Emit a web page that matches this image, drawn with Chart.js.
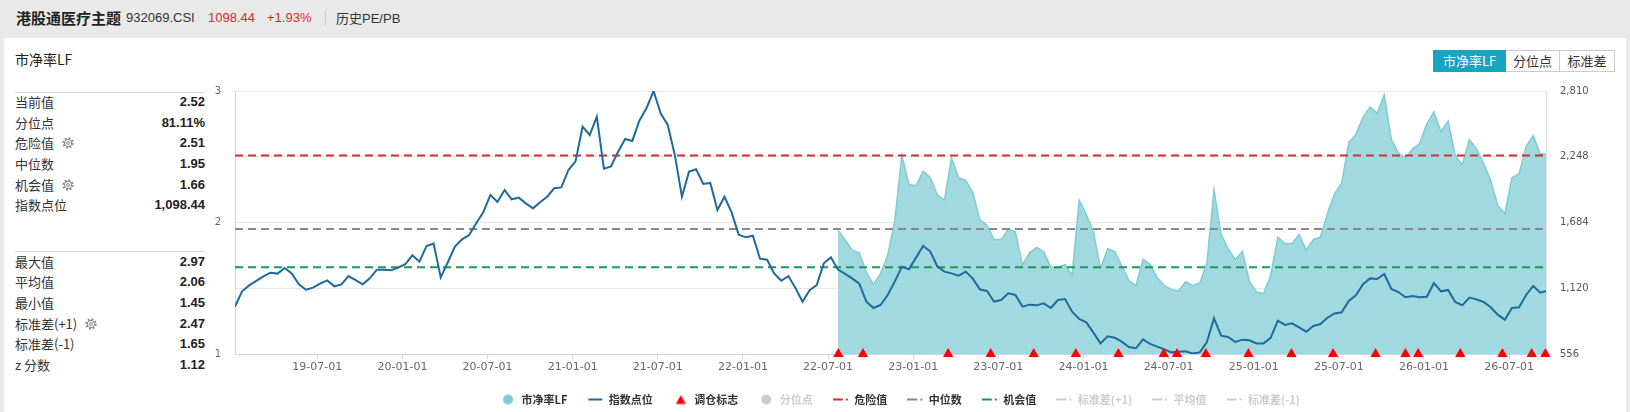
<!DOCTYPE html>
<html>
<head>
<meta charset="utf-8">
<script src="https://cdn.jsdelivr.net/npm/chart.js@4.4.1/dist/chart.umd.min.js"></script>
<style>
  body { margin: 0; width: 1630px; height: 412px; overflow: hidden; background: #e9e9e9; position: relative;
         font-family: "Liberation Sans", "Noto Sans CJK SC", sans-serif; color: #333; }
  .abs { position: absolute; white-space: nowrap; }
  .head { top: 0; height: 35px; line-height: 35px; font-size: 13px; }
  .cjk { font-family: "Noto Sans CJK SC", sans-serif; }
  #card { left: 4px; top: 38px; width: 1622px; height: 380px; background: #fff; }
  .sep { left: 15px; width: 190px; height: 1px; background: #ddd; }
  .rows { left: 15px; width: 190px; }
  .row { height: 20.7px; line-height: 20.7px; font-size: 13px; position: relative; }
  .row .lab { font-family: "Noto Sans CJK SC", sans-serif; color: #333; }
  .row .val { position: absolute; right: 0; top: 0; font-weight: bold; color: #222; }
  .row svg { vertical-align: -1px; margin-left: 8px; }
  #btns { left: 1433px; top: 50px; height: 22px; display: flex; font-family: "Noto Sans CJK SC", sans-serif; font-size: 13px; }
  #btns div { height: 20px; line-height: 20px; border: 1px solid #ccc; text-align: center; color: #333; background: #fff; }
  #btns div.on { background: #17a6c0; border-color: #17a6c0; color: #fff; }
  #wrap { left: 200px; top: 80px; width: 1400px; height: 335px; }
</style>
</head>
<body>
<div class="abs head cjk" style="left:16px;font-size:15px;font-weight:bold;color:#222">港股通医疗主题</div>
<div class="abs head" style="left:126px">932069.CSI</div>
<div class="abs head" style="left:208px;color:#d42b2b">1098.44</div>
<div class="abs head" style="left:267px;color:#d42b2b">+1.93%</div>
<div class="abs" style="left:325px;top:10px;width:1px;height:16px;background:#ccc"></div>
<div class="abs head" style="left:336px"><span class="cjk">历史</span>PE/PB</div>

<div id="card" class="abs"></div>
<div class="abs cjk" style="left:15px;top:49px;font-size:14px;line-height:20px;color:#222">市净率LF</div>

<div class="abs sep" style="top:92px"></div>
<div class="abs rows" style="top:92px">
  <div class="row"><span class="lab">当前值</span><span class="val">2.52</span></div>
  <div class="row"><span class="lab">分位点</span><span class="val">81.11%</span></div>
  <div class="row"><span class="lab">危险值</span><svg width="12" height="12" viewBox="0 0 12 12"><circle cx="6" cy="6" r="4.6" fill="none" stroke="#888" stroke-width="2.2" stroke-dasharray="1.8 1.8"/><circle cx="6" cy="6" r="3.6" fill="#fff" stroke="#888" stroke-width="1"/><circle cx="6" cy="6" r="1.4" fill="none" stroke="#888" stroke-width="1"/></svg><span class="val">2.51</span></div>
  <div class="row"><span class="lab">中位数</span><span class="val">1.95</span></div>
  <div class="row"><span class="lab">机会值</span><svg width="12" height="12" viewBox="0 0 12 12"><circle cx="6" cy="6" r="4.6" fill="none" stroke="#888" stroke-width="2.2" stroke-dasharray="1.8 1.8"/><circle cx="6" cy="6" r="3.6" fill="#fff" stroke="#888" stroke-width="1"/><circle cx="6" cy="6" r="1.4" fill="none" stroke="#888" stroke-width="1"/></svg><span class="val">1.66</span></div>
  <div class="row"><span class="lab">指数点位</span><span class="val">1,098.44</span></div>
</div>

<div class="abs sep" style="top:251px"></div>
<div class="abs rows" style="top:251.5px">
  <div class="row"><span class="lab">最大值</span><span class="val">2.97</span></div>
  <div class="row"><span class="lab">平均值</span><span class="val">2.06</span></div>
  <div class="row"><span class="lab">最小值</span><span class="val">1.45</span></div>
  <div class="row"><span class="lab">标准差(+1)</span><svg width="12" height="12" viewBox="0 0 12 12"><circle cx="6" cy="6" r="4.6" fill="none" stroke="#888" stroke-width="2.2" stroke-dasharray="1.8 1.8"/><circle cx="6" cy="6" r="3.6" fill="#fff" stroke="#888" stroke-width="1"/><circle cx="6" cy="6" r="1.4" fill="none" stroke="#888" stroke-width="1"/></svg><span class="val">2.47</span></div>
  <div class="row"><span class="lab">标准差(-1)</span><span class="val">1.65</span></div>
  <div class="row"><span class="lab">z 分数</span><span class="val">1.12</span></div>
</div>

<div id="btns" class="abs">
  <div class="on" style="width:71px">市净率LF</div>
  <div style="width:53px;border-left:none">分位点</div>
  <div style="width:54px;border-left:none">标准差</div>
</div>

<div id="wrap" class="abs"><canvas id="chart-pb"></canvas></div>

<script>
// index level, one value every half month, first point early Jan 2019
let index_values = [
  962, 1093, 1144, 1182, 1222, 1253, 1245, 1293, 1247, 1153,
  1107, 1125, 1159, 1187, 1136, 1153, 1224, 1190, 1153, 1204,
  1279, 1279, 1273, 1296, 1325, 1402, 1347, 1482, 1502, 1213,
  1342, 1476, 1539, 1576, 1676, 1770, 1919, 1859, 1962, 1882,
  1896, 1847, 1804, 1856, 1904, 1976, 1984, 2133, 2207, 2504,
  2433, 2590, 2144, 2164, 2290, 2399, 2382, 2556, 2662, 2810,
  2619, 2519, 2262, 1904, 2119, 2139, 2013, 2022, 1790, 1904,
  1770, 1579, 1556, 1570, 1373, 1364, 1247, 1184, 1224, 1122,
  1004, 1102, 1147, 1333, 1384, 1279, 1242, 1204, 1159, 1004,
  950, 976, 1062, 1176, 1304, 1282, 1382, 1482, 1436, 1307,
  1262, 1247, 1227, 1262, 1202, 1110, 1096, 1004, 1019, 1076,
  1062, 962, 979, 973, 990, 950, 1019, 1027, 919, 856,
  827, 739, 647, 707, 696, 662, 616, 605, 682, 642,
  619, 596, 570, 576, 579, 560, 570, 659, 862, 713,
  702, 659, 679, 673, 647, 647, 696, 842, 805, 819,
  785, 747, 796, 813, 867, 904, 913, 1010, 1059, 1153,
  1204, 1199, 1242, 1113, 1087, 1042, 1053, 1042, 1047, 1164,
  1093, 1105, 1002, 973, 1039, 1024, 1002, 956, 893, 850,
  950, 956, 1062, 1139, 1082, 1098
]
// PB (LF), same half-month grid, only available from Jul 2022
let pb_values = [
  1.94, 1.87, 1.79, 1.77, 1.62, 1.53, 1.61, 1.75, 2.01, 2.51,
  2.29, 2.28, 2.39, 2.34, 2.21, 2.17, 2.49, 2.34, 2.32, 2.23,
  2.02, 1.98, 1.87, 1.87, 1.95, 1.93, 1.68, 1.77, 1.81, 1.78,
  1.66, 1.66, 1.68, 1.60, 2.17, 2.06, 1.93, 1.65, 1.80, 1.78,
  1.67, 1.56, 1.52, 1.72, 1.68, 1.58, 1.52, 1.49, 1.48, 1.55,
  1.52, 1.54, 1.69, 2.25, 1.91, 1.80, 1.72, 1.78, 1.55, 1.47,
  1.46, 1.60, 1.89, 1.84, 1.84, 1.91, 1.79, 1.87, 1.89, 2.07,
  2.22, 2.30, 2.61, 2.67, 2.80, 2.88, 2.83, 2.97, 2.63, 2.53,
  2.49, 2.56, 2.60, 2.75, 2.84, 2.69, 2.77, 2.51, 2.44, 2.63,
  2.56, 2.45, 2.32, 2.13, 2.07, 2.34, 2.37, 2.58, 2.66, 2.52,
  2.52
]
let pb_start = 85
let rebalance_dates = ['2022-07-23', '2022-09-15', '2023-03-15', '2023-06-15', '2023-09-16',
  '2023-12-15', '2024-03-15', '2024-06-21', '2024-07-19', '2024-09-20', '2024-12-20',
  '2025-03-21', '2025-06-19', '2025-09-19', '2025-11-22', '2025-12-19', '2026-03-18',
  '2026-06-17', '2026-08-19', '2026-09-18']
let x_ticks = [6, 12, 18, 24, 30, 36, 42, 48, 54, 60, 66, 72, 78, 84, 90]  // months after 2019-01
let right_ticks = [556, 1120, 1684, 2248, 2810]
let left_ticks = [1, 2, 3]
let danger = 2.51, median = 1.95, chance = 1.66
let std_up = 2.47, average = 2.06, std_down = 1.65

let first_month = 0.2, step_month = 0.5, last_month = 92.6

function toMonth(s) {
  let p = s.split('-').map(Number)
  return (p[0] - 2019) * 12 + (p[1] - 1) + (p[2] - 1) / 30.4
}
function monthLabel(m) {
  let y = 19 + Math.floor(m / 12)
  let mm = Math.round(m % 12) + 1
  return y + '-' + String(mm).padStart(2, '0') + '-01'
}
function flat(v) { return [{x: first_month, y: v}, {x: last_month, y: v}] }

// little legend symbols
function symbol(draw) {
  let c = document.createElement('canvas')
  c.width = 16; c.height = 12
  draw(c.getContext('2d'))
  return c
}
let dot = color => symbol(g => { g.fillStyle = color; g.beginPath(); g.arc(8, 6, 5, 0, Math.PI * 2); g.fill() })
let bar = color => symbol(g => { g.fillStyle = color; g.fillRect(1, 5, 14, 2) })
let tri = color => symbol(g => { g.fillStyle = color; g.beginPath(); g.moveTo(8, 1.5); g.lineTo(13, 10.5); g.lineTo(3, 10.5); g.closePath(); g.fill() })
let dashDot = color => symbol(g => { g.fillStyle = color; g.fillRect(0, 5, 10, 2); g.fillRect(13, 5, 2, 2) })

let legend_items = [
  {text: '市净率LF', pointStyle: dot('#7ecbd6'), fontColor: '#333'},
  {text: '指数点位', pointStyle: bar('#1f6a9b'), fontColor: '#333'},
  {text: '调仓标志', pointStyle: tri('#ff0000'), fontColor: '#333'},
  {text: '分位点', pointStyle: dot('#cccccc'), fontColor: '#cccccc'},
  {text: '危险值', pointStyle: dashDot('#d03030'), fontColor: '#333'},
  {text: '中位数', pointStyle: dashDot('#888888'), fontColor: '#333'},
  {text: '机会值', pointStyle: dashDot('#1a9a55'), fontColor: '#333'},
  {text: '标准差(+1)', pointStyle: dashDot('#cccccc'), fontColor: '#cccccc'},
  {text: '平均值', pointStyle: dashDot('#cccccc'), fontColor: '#cccccc'},
  {text: '标准差(-1)', pointStyle: dashDot('#cccccc'), fontColor: '#cccccc'}
]

// keep y axes from pushing the plot area down
function noEdgePad(s, w) {
  s.width = w
  s.paddingTop = 0
  s.paddingBottom = 0
}

var ctx = document.getElementById('chart-pb').getContext('2d')

var chart = new Chart(ctx, {
  type: 'line',
  data: {
    datasets: [
      {
        label: '调仓标志',
        data: rebalance_dates.map(d => ({x: toMonth(d), y: 1})),
        yAxisID: 'pb', showLine: false, clip: false,
        pointStyle: 'triangle', pointRadius: 6, pointBackgroundColor: '#ff0000', pointBorderWidth: 0,
        order: 0
      },
      {
        label: '指数点位',
        data: index_values.map((v, i) => ({x: first_month + i * step_month, y: v})),
        yAxisID: 'idx', borderColor: '#1f6a9b', borderWidth: 2, pointRadius: 0,
        order: 1
      },
      { label: '危险值', data: flat(danger), yAxisID: 'pb', borderColor: '#d03030', borderWidth: 2, borderDash: [8, 5], pointRadius: 0, order: 2 },
      { label: '中位数', data: flat(median), yAxisID: 'pb', borderColor: '#888888', borderWidth: 2, borderDash: [8, 5], pointRadius: 0, order: 2 },
      { label: '机会值', data: flat(chance), yAxisID: 'pb', borderColor: '#1a9a55', borderWidth: 2, borderDash: [8, 5], pointRadius: 0, order: 2 },
      { label: '标准差(+1)', data: flat(std_up), yAxisID: 'pb', hidden: true, pointRadius: 0 },
      { label: '平均值', data: flat(average), yAxisID: 'pb', hidden: true, pointRadius: 0 },
      { label: '标准差(-1)', data: flat(std_down), yAxisID: 'pb', hidden: true, pointRadius: 0 },
      {
        label: '市净率LF',
        data: pb_values.map((v, i) => ({x: first_month + (pb_start + i) * step_month, y: v})),
        yAxisID: 'pb', fill: 'start', backgroundColor: '#a1d9e0', borderColor: '#80cbd5', borderWidth: 1.5,
        pointRadius: 0, order: 5
      }
    ]
  },
  options: {
    responsive: true,
    maintainAspectRatio: false,
    animation: false,
    layout: { padding: { top: 11, left: 0, right: 0, bottom: 0 } },
    plugins: {
      tooltip: { enabled: false },
      legend: {
        position: 'bottom',
        onClick: null,
        labels: {
          usePointStyle: true,
          pointStyleWidth: 16,
          padding: 20,
          font: { family: '"Noto Sans CJK SC"', size: 11, weight: 'bold' },
          generateLabels: () => legend_items.map(it => ({
            text: it.text, pointStyle: it.pointStyle, fontColor: it.fontColor,
            fillStyle: 'transparent', strokeStyle: 'transparent', lineWidth: 0, hidden: false
          }))
        }
      }
    },
    scales: {
      x: {
        type: 'linear', min: first_month, max: last_month,
        afterBuildTicks: s => { s.ticks = x_ticks.map(v => ({value: v})) },
        afterFit: s => { s.height = 20 },
        grid: { drawOnChartArea: false, tickLength: 5, color: '#ccd6eb' },
        border: { color: '#ccd6eb' },
        ticks: { autoSkip: false, maxRotation: 0, padding: 2, color: '#666',
                 font: { family: 'DejaVu Sans', size: 11 }, callback: v => monthLabel(v) }
      },
      pb: {
        position: 'left', min: 1, max: 3,
        afterBuildTicks: s => { s.ticks = left_ticks.map(v => ({value: v})) },
        afterFit: s => noEdgePad(s, 35),
        grid: { display: false, drawTicks: false },
        border: { color: '#ccd6eb' },
        ticks: { padding: 14, color: '#666', font: { family: 'DejaVu Sans', size: 10 } }
      },
      idx: {
        position: 'right', min: 556, max: 2810,
        afterBuildTicks: s => { s.ticks = right_ticks.map(v => ({value: v})) },
        afterFit: s => noEdgePad(s, 54),
        grid: { color: '#e6e6e6', drawTicks: false },
        border: { color: '#dde3ec' },
        ticks: { padding: 14, color: '#555', font: { family: 'DejaVu Sans', size: 10 },
                 callback: v => v.toLocaleString('en-US') }
      }
    }
  }
})
</script>
</body>
</html>
